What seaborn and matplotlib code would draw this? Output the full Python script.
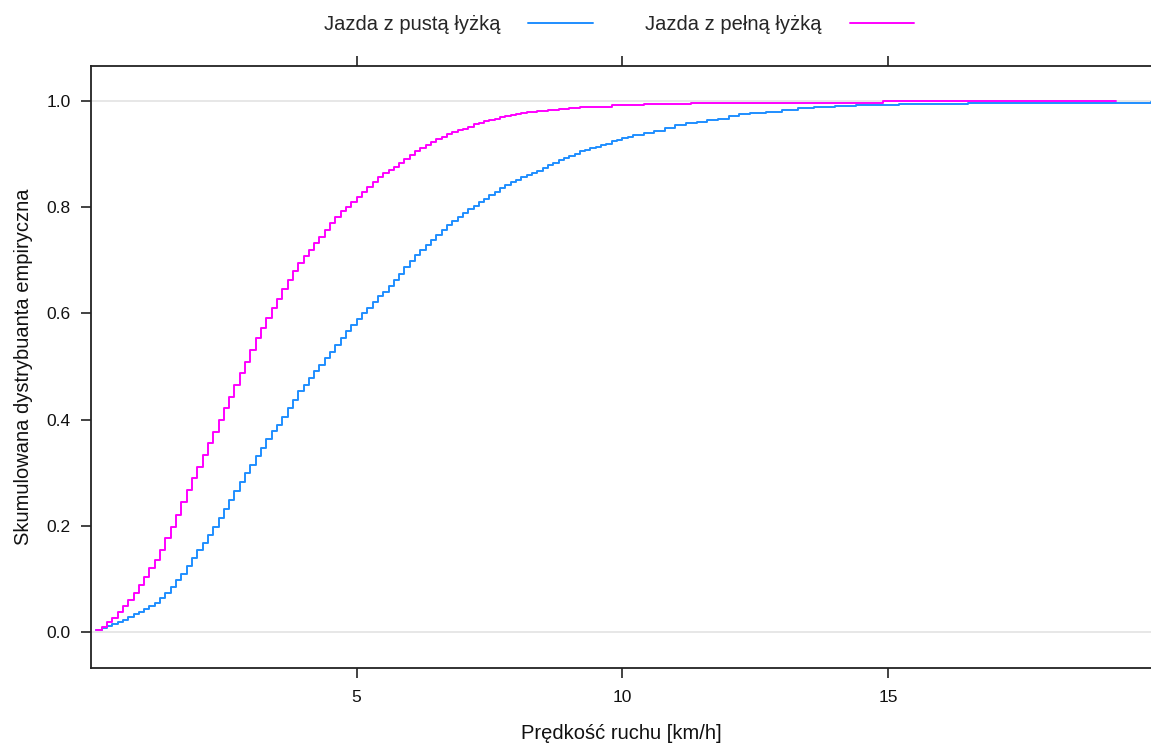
import numpy as np
import pandas as pd
import matplotlib
matplotlib.use("Agg")
import matplotlib.pyplot as plt
import seaborn as sns

# ==========================
# Dane (ECDF, krok 0.1 km/h)
# ==========================
speed_empty = [
    0.1, 0.2, 0.3, 0.4, 0.5, 0.6, 0.7, 0.8, 0.9, 1.0,
    1.1, 1.2, 1.3, 1.4, 1.5, 1.6, 1.7, 1.8, 1.9, 2.0,
    2.1, 2.2, 2.3, 2.4, 2.5, 2.6, 2.7, 2.8, 2.9, 3.0,
    3.1, 3.2, 3.3, 3.4, 3.5, 3.6, 3.7, 3.8, 3.9, 4.0,
    4.1, 4.2, 4.3, 4.4, 4.5, 4.6, 4.7, 4.8, 4.9, 5.0,
    5.1, 5.2, 5.3, 5.4, 5.5, 5.6, 5.7, 5.8, 5.9, 6.0,
    6.1, 6.2, 6.3, 6.4, 6.5, 6.6, 6.7, 6.8, 6.9, 7.0,
    7.1, 7.2, 7.3, 7.4, 7.5, 7.6, 7.7, 7.8, 7.9, 8.0,
    8.1, 8.2, 8.3, 8.4, 8.5, 8.6, 8.7, 8.8, 8.9, 9.0,
    9.1, 9.2, 9.3, 9.4, 9.5, 9.6, 9.7, 9.8, 9.9, 10.0,
    10.1, 10.2, 10.4, 10.6, 10.8, 11.0, 11.2, 11.4, 11.6, 11.8,
    12.0, 12.2, 12.4, 12.7, 13.0, 13.3, 13.6, 14.0, 14.4, 15.2,
    16.5, 19.95,
]
ecdf_empty = [
    0.003, 0.007, 0.011, 0.015, 0.019, 0.023, 0.028, 0.033, 0.038, 0.043,
    0.048, 0.055, 0.064, 0.073, 0.085, 0.097, 0.110, 0.124, 0.139, 0.154,
    0.168, 0.183, 0.198, 0.215, 0.232, 0.249, 0.266, 0.283, 0.299, 0.315,
    0.331, 0.347, 0.363, 0.378, 0.390, 0.405, 0.421, 0.437, 0.453, 0.466,
    0.478, 0.491, 0.503, 0.516, 0.528, 0.541, 0.553, 0.566, 0.578, 0.589,
    0.600, 0.611, 0.622, 0.632, 0.641, 0.652, 0.663, 0.675, 0.687, 0.699,
    0.710, 0.720, 0.729, 0.738, 0.748, 0.757, 0.766, 0.774, 0.781, 0.789,
    0.796, 0.803, 0.810, 0.816, 0.823, 0.829, 0.836, 0.842, 0.848, 0.852,
    0.856, 0.860, 0.864, 0.869, 0.874, 0.879, 0.883, 0.888, 0.892, 0.896,
    0.901, 0.905, 0.908, 0.911, 0.914, 0.917, 0.920, 0.924, 0.927, 0.930,
    0.933, 0.936, 0.940, 0.944, 0.950, 0.954, 0.958, 0.961, 0.964, 0.967,
    0.972, 0.975, 0.977, 0.980, 0.984, 0.987, 0.989, 0.991, 0.993, 0.994,
    0.997, 0.998,
]

speed_full = [
    0.1, 0.2, 0.3, 0.4, 0.5, 0.6, 0.7, 0.8, 0.9, 1.0,
    1.1, 1.2, 1.3, 1.4, 1.5, 1.6, 1.7, 1.8, 1.9, 2.0,
    2.1, 2.2, 2.3, 2.4, 2.5, 2.6, 2.7, 2.8, 2.9, 3.0,
    3.1, 3.2, 3.3, 3.4, 3.5, 3.6, 3.7, 3.8, 3.9, 4.0,
    4.1, 4.2, 4.3, 4.4, 4.5, 4.6, 4.7, 4.8, 4.9, 5.0,
    5.1, 5.2, 5.3, 5.4, 5.5, 5.6, 5.7, 5.8, 5.9, 6.0,
    6.1, 6.2, 6.3, 6.4, 6.5, 6.6, 6.7, 6.8, 6.9, 7.0,
    7.1, 7.2, 7.3, 7.4, 7.5, 7.6, 7.7, 7.8, 7.9, 8.0,
    8.1, 8.2, 8.3, 8.4, 8.5, 8.6, 8.8, 9.0, 9.2, 9.3,
    9.8, 10.4, 11.3, 14.9, 19.3,
]
ecdf_full = [
    0.004, 0.010, 0.018, 0.026, 0.037, 0.048, 0.060, 0.073, 0.088, 0.104,
    0.120, 0.136, 0.155, 0.176, 0.198, 0.220, 0.244, 0.267, 0.289, 0.311,
    0.333, 0.355, 0.377, 0.399, 0.421, 0.443, 0.465, 0.487, 0.509, 0.531,
    0.553, 0.572, 0.591, 0.610, 0.628, 0.646, 0.663, 0.679, 0.694, 0.708,
    0.720, 0.732, 0.744, 0.757, 0.770, 0.781, 0.792, 0.801, 0.810, 0.820,
    0.829, 0.839, 0.848, 0.857, 0.864, 0.870, 0.876, 0.884, 0.891, 0.898,
    0.905, 0.912, 0.918, 0.923, 0.928, 0.933, 0.938, 0.941, 0.945, 0.948,
    0.952, 0.956, 0.959, 0.962, 0.964, 0.967, 0.969, 0.971, 0.973, 0.975,
    0.977, 0.979, 0.980, 0.981, 0.982, 0.983, 0.985, 0.987, 0.988, 0.989,
    0.992, 0.994, 0.997, 1.000, 1.000,
]

labels = ["Jazda z pustą łyżką", "Jazda z pełną łyżką"]
colors = ["#1f8eff", "#ff00ff"]

df = pd.concat([
    pd.DataFrame({"speed": speed_empty, "ecdf": ecdf_empty, "grupa": labels[0]}),
    pd.DataFrame({"speed": speed_full, "ecdf": ecdf_full, "grupa": labels[1]}),
])

# ==========================
# Wykres
# ==========================
sns.set_style("white")
plt.rcParams["font.family"] = ["Liberation Sans", "DejaVu Sans"]

fig = plt.figure(figsize=(11.51, 7.46), dpi=100)
ax = fig.add_axes([91 / 1151, 1 - 668 / 746, 1 - 91 / 1151, (668 - 66) / 746])

# linie odniesienia 0 i 1
ax.axhline(0, color="#e3e3e3", lw=1.2, zorder=0)
ax.axhline(1, color="#e3e3e3", lw=1.2, zorder=0)

sns.lineplot(data=df, x="speed", y="ecdf", hue="grupa", palette=colors,
             hue_order=labels, estimator=None, drawstyle="steps-post",
             lw=1.4, legend=False, ax=ax)

ax.set_xlim(0.0, 19.95)
ax.set_ylim(-0.068, 1.066)
ax.set_xticks([5, 10, 15])
ax.set_yticks([0.0, 0.2, 0.4, 0.6, 0.8, 1.0])
ax.set_yticklabels([f"{v:.1f}" for v in [0.0, 0.2, 0.4, 0.6, 0.8, 1.0]])

for side in ["left", "bottom", "top"]:
    ax.spines[side].set_color("#222222")
    ax.spines[side].set_linewidth(1.3)
ax.spines["right"].set_visible(False)

ax.tick_params(axis="both", direction="out", length=7.5, width=1.2,
               color="#222222", labelsize=12.5, labelcolor="#111111")
ax.tick_params(axis="x", top=True, labeltop=False, bottom=True, pad=8)
ax.tick_params(axis="y", left=True, right=False, pad=7)

ax.set_xlabel("Prędkość ruchu [km/h]", fontsize=14.5, color="#111111", labelpad=14)
ax.set_ylabel("Skumulowana dystrybuanta empiryczna", fontsize=14.5,
              color="#111111", labelpad=10)

handles = ax.get_lines()[2:4]
fig.legend(handles, labels, loc="center", bbox_to_anchor=(619 / 1151, 1 - 25 / 746),
           ncol=2, frameon=False, markerfirst=False, fontsize=14.5,
           handlelength=3.2, handletextpad=1.4, columnspacing=2.6)

fig.savefig("out.png", dpi=100)
